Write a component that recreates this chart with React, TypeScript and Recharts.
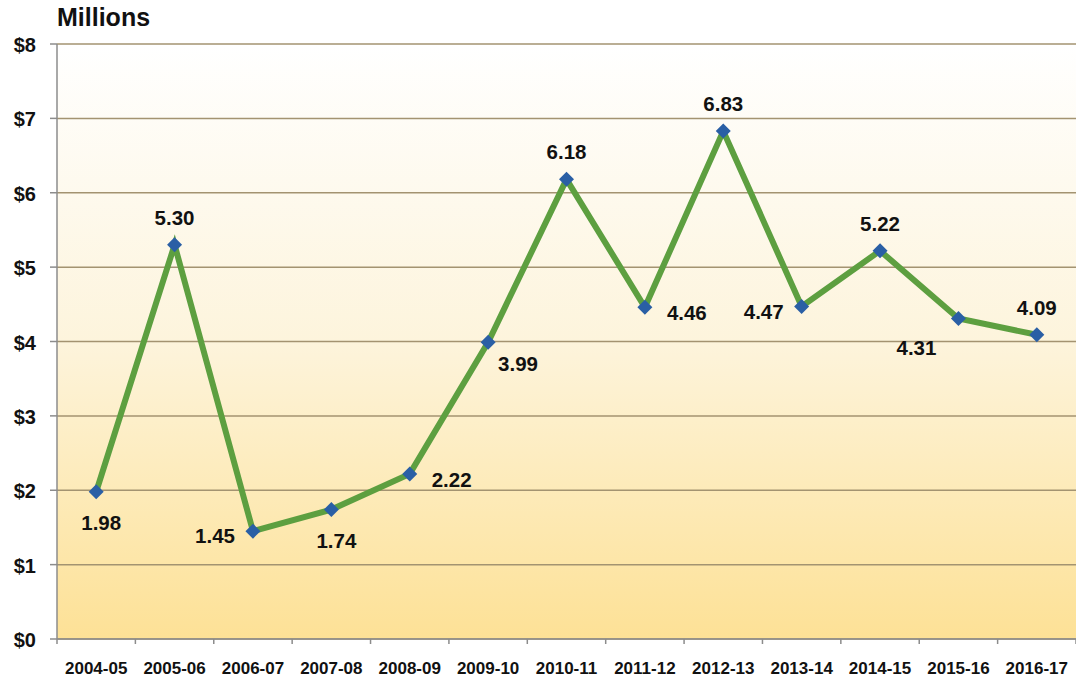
import { LineChart, Line, XAxis, YAxis, CartesianGrid } from "recharts";

const years = [
  "2004-05", "2005-06", "2006-07", "2007-08", "2008-09", "2009-10", "2010-11",
  "2011-12", "2012-13", "2013-14", "2014-15", "2015-16", "2016-17",
];
const amounts = [1.98, 5.3, 1.45, 1.74, 2.22, 3.99, 6.18, 4.46, 6.83, 4.47, 5.22, 4.31, 4.09];
const yTicks = [0, 1, 2, 3, 4, 5, 6, 7, 8];

// where each value label sits relative to its point
const labelSide = ["below", "above", "left", "below", "right", "belowRight", "above", "right", "above", "left", "above", "leftBelow", "above"];

const data = years.map((year, i) => ({ year, amount: amounts[i] }));

const FONT = '"Liberation Sans", Arial, Helvetica, sans-serif';
const W = 1076;
const H = 680;
const LEFT = 57;
const BAND = (W - LEFT) / years.length;

function Diamond(props: any) {
  const { cx, cy } = props;
  if (cx == null || cy == null) return null;
  const r = 7.5;
  return (
    <polygon
      points={`${cx},${cy - r} ${cx + r},${cy} ${cx},${cy + r} ${cx - r},${cy}`}
      fill="#2a5fa5"
    />
  );
}

function ValueLabel(props: any) {
  const { x, y, value, index } = props;
  const side = labelSide[index];
  let dx = 0;
  let dy = 0;
  let anchor: "middle" | "start" | "end" = "middle";
  if (side === "above") dy = -20;
  else if (side === "below") { dy = 38; dx = 5; }
  else if (side === "left") { dx = -18; dy = 12; anchor = "end"; }
  else if (side === "right") { dx = 22; dy = 13; anchor = "start"; }
  else if (side === "belowRight") { dx = 10; dy = 29; anchor = "start"; }
  else if (side === "leftBelow") { dx = -22; dy = 37; anchor = "end"; }
  return (
    <text x={x + dx} y={y + dy} textAnchor={anchor} fontFamily={FONT} fontWeight="bold" fontSize={20.5} fill="#111">
      {Number(value).toFixed(2)}
    </text>
  );
}

function XTick(props: any) {
  const { x, y, payload, index } = props;
  const bx = x - BAND / 2;
  return (
    <g>
      <line x1={bx} y1={y - 8} x2={bx} y2={y - 3} stroke="#8c8c8c" strokeWidth={1.5} />
      {index === years.length - 1 && (
        <line x1={x + BAND / 2} y1={y - 8} x2={x + BAND / 2} y2={y - 3} stroke="#8c8c8c" strokeWidth={1.5} />
      )}
      <text x={x} y={y + 27} textAnchor="middle" fontFamily={FONT} fontWeight="bold" fontSize={17} fill="#111">
        {payload.value}
      </text>
    </g>
  );
}

export default function App() {
  return (
    <div style={{ position: "absolute", left: 0, top: 0, width: W, height: H, background: "#fff" }}>
      <div
        style={{
          position: "absolute",
          left: 57,
          top: 3,
          fontFamily: FONT,
          fontWeight: "bold",
          fontSize: 25,
          color: "#111",
        }}
      >
        Millions
      </div>
      <LineChart width={W} height={H} data={data} margin={{ top: 44, right: 0, left: 0, bottom: 0 }}>
        <defs>
          <linearGradient id="bgFill" x1="0" y1="0" x2="0" y2="1">
            <stop offset="0%" stopColor="#ffffff" />
            <stop offset="50%" stopColor="#fdf4dc" />
            <stop offset="100%" stopColor="#fde196" />
          </linearGradient>
        </defs>
        <CartesianGrid vertical={false} horizontal stroke="#a39371" strokeWidth={1.5} fill="url(#bgFill)" fillOpacity={1} />
        <XAxis
          dataKey="year"
          height={41}
          padding={{ left: BAND / 2, right: BAND / 2 }}
          axisLine={{ stroke: "#8c8c8c", strokeWidth: 1.5 }}
          tickLine={false}
          tick={<XTick />}
          interval={0}
        />
        <YAxis
          width={LEFT}
          domain={[0, 8]}
          ticks={yTicks}
          interval={0}
          tickFormatter={(v: number) => `$${v}`}
          axisLine={{ stroke: "#8c8c8c", strokeWidth: 1.5 }}
          tickLine={{ stroke: "#8c8c8c", strokeWidth: 1.5 }}
          tickSize={7}
          tickMargin={14}
          tick={{ fill: "#111", fontSize: 20, fontWeight: "bold", fontFamily: FONT, dy: 1 }}
        />
        <Line
          type="linear"
          dataKey="amount"
          stroke="#5d9f40"
          strokeWidth={6}
          dot={<Diamond />}
          activeDot={false}
          label={<ValueLabel />}
          isAnimationActive={false}
        />
      </LineChart>
    </div>
  );
}
